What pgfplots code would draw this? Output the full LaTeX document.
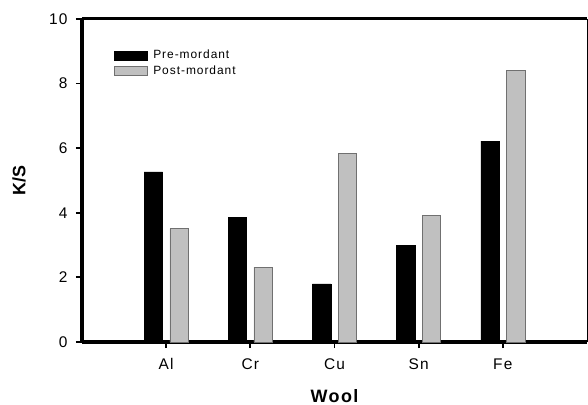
\documentclass[border=0pt]{standalone}
\usepackage{fontspec}
\setmainfont{Liberation Sans}
\usepackage{pgfplots}
\pgfplotsset{compat=1.18}
\definecolor{barg}{HTML}{C0C0C0}
\definecolor{edgeg}{HTML}{707070}
\begin{document}
\begin{tikzpicture}
\begin{axis}[
  at={(0,0)}, anchor=south west,
  scale only axis, width=505bp, height=323bp,
  xmin=0, xmax=6, ymin=0, ymax=10,
  xtick={1,2,3,4,5}, xticklabels={Al,Cr,Cu,Sn,Fe},
  ytick={0,2,4,6,8,10},
  axis x line*=bottom, axis y line*=left,
  x axis line style={line width=3bp, -},
  y axis line style={line width=3.5bp, -},
  tick align=outside,
  major tick length=6bp,
  tick style={black, line width=1.8bp},
  /pgf/number format/assume math mode=true,
  ticklabel style={font=\fontsize{15.5}{15.5}\selectfont\addfontfeature{LetterSpace=8}},
  xticklabel style={yshift=-7bp},
  yticklabel style={xshift=-5bp},
  every axis y label/.style={at={(axis description cs:-0.1248,0.5)}, rotate=90, anchor=center, font=\fontsize{18}{18}\selectfont\bfseries},
  every axis x label/.style={at={(axis description cs:0.5,-0.167)}, anchor=center, font=\fontsize{18}{18}\selectfont\bfseries\addfontfeature{LetterSpace=8}},
  ylabel={K/S}, xlabel={Wool},
  legend image code/.code={\draw[#1] (0bp,-4.5bp) rectangle (33bp,4.5bp);},
  legend style={at={(axis description cs:0.0634,0.910)}, anchor=north west, draw=none, fill=none, inner sep=0pt, font=\fontsize{12}{12}\selectfont\addfontfeature{LetterSpace=8}, row sep=1.5bp, nodes={inner xsep=5.5bp}},
  legend cell align=left,
  clip=false,
]
\addplot[ybar, bar width=18.4bp, bar shift=-12.85bp, fill=black, draw=black] coordinates {(1,5.27) (2,3.85) (3,1.80) (4,2.99) (5,6.22)};
\addplot[ybar, bar width=18.4bp, bar shift=12.85bp, fill=barg, draw=edgeg, line width=0.6bp] coordinates {(1,3.51) (2,2.32) (3,5.84) (4,3.92) (5,8.41)};
\legend{Pre-mordant, Post-mordant}
\draw[line width=3bp] (axis description cs:0,1) -- (axis description cs:1,1);
\draw[line width=0.8bp] (axis description cs:1,0) -- (axis description cs:1,1);
\end{axis}
\pgfresetboundingbox
\path[use as bounding box] (-82bp,-63bp) rectangle (506bp,342bp);
\end{tikzpicture}
\end{document}
